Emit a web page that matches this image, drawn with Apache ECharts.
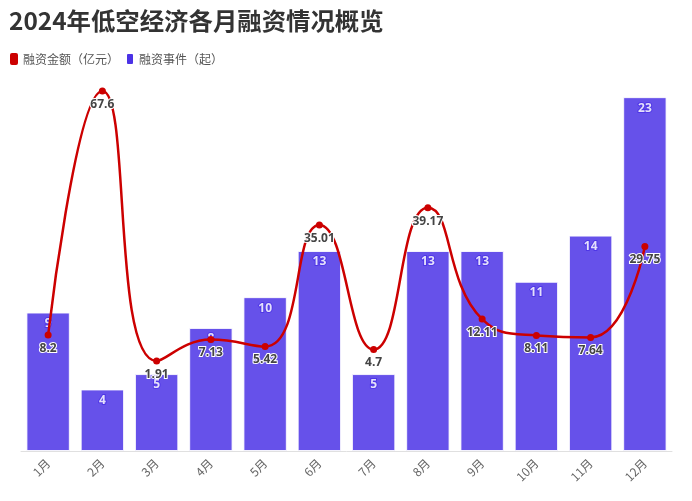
<!DOCTYPE html>
<html><head><meta charset="utf-8">
<script src="https://cdn.jsdelivr.net/npm/echarts@6/dist/echarts.min.js"></script>
<style>html,body{margin:0;padding:0;background:#fff}#c{width:692px;height:501px}</style>
</head><body><div id="c"></div>
<script>
const months = ['1月','2月','3月','4月','5月','6月','7月','8月','9月','10月','11月','12月'];
const amounts = [8.2, 67.6, 1.91, 7.13, 5.42, 35.01, 4.7, 39.17, 12.11, 8.11, 7.64, 29.75];
const events = [9, 4, 5, 8, 10, 13, 5, 13, 13, 11, 14, 23];
const FONT = '"Noto Sans CJK SC","Noto Sans",sans-serif';
const NUMFONT = '"Open Sans","Noto Sans",sans-serif';
const chart = echarts.init(document.getElementById('c'), null, {renderer:'canvas'});
chart.setOption({
  animation:false,
  textStyle:{fontFamily:FONT},
  title:{text:'2024年低空经济各月融资情况概览',left:4,top:4,
    textStyle:{fontSize:24.4,fontWeight:'bold',color:'#333',fontFamily:FONT}},
  legend:{left:5,top:47,itemWidth:8,itemHeight:12,itemGap:6,icon:'roundRect',
    textStyle:{fontSize:12,color:'#555',fontFamily:FONT},
    data:[{name:'融资金额（亿元）',itemStyle:{color:'#cc0000',opacity:1}},
          {name:'融资事件（起）',itemStyle:{color:'#4B32E6',opacity:1}}]},
  grid:{left:21,right:20,top:91,bottom:50,containLabel:false},
  xAxis:{type:'category',data:months,
    axisLine:{lineStyle:{color:'#e0e0e0'}},
    axisTick:{alignWithLabel:true,lineStyle:{color:'#e0e0e0'}},
    axisLabel:{rotate:45,color:'#666',fontSize:12,margin:10,fontFamily:FONT}},
  yAxis:[
    {type:'value',min:0,max:23.4,show:false,splitLine:{show:false}},
    {type:'value',min:-20,max:67.6,show:false,splitLine:{show:false}}
  ],
  series:[
    {name:'融资事件（起）',type:'bar',yAxisIndex:0,data:events,barCategoryGap:'20%',
     itemStyle:{color:'#4B32E6',opacity:0.85,borderColor:'#ffffff',borderWidth:1},
     label:{show:true,position:'insideTop',distance:5,color:'#fff',fontSize:12,fontWeight:'bold',
       textBorderColor:'#4B32E6',textBorderWidth:2,fontFamily:NUMFONT}},
    {name:'融资金额（亿元）',type:'line',yAxisIndex:1,data:amounts,smooth:true,
     symbol:'circle',symbolSize:7,
     lineStyle:{color:'#cc0000',width:2.5},itemStyle:{color:'#cc0000'},
     label:{show:true,position:'bottom',distance:4,color:'#444',fontSize:12,fontWeight:'bold',
       textBorderColor:'#fff',textBorderWidth:2,fontFamily:NUMFONT}}
  ]
});
</script></body></html>
